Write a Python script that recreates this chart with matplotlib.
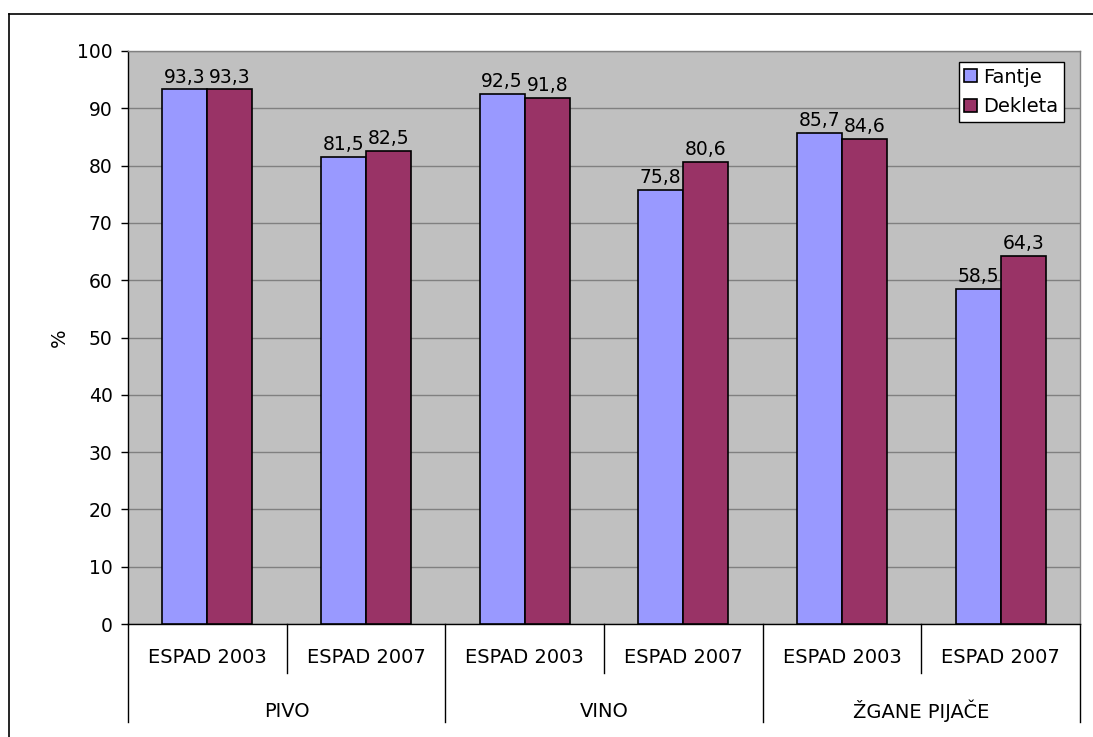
import matplotlib
matplotlib.use("Agg")
import matplotlib.pyplot as plt
from matplotlib.lines import Line2D
import numpy as np

groups = ["PIVO", "VINO", "ŽGANE PIJAČE"]
surveys = ["ESPAD 2003", "ESPAD 2007"]
fantje = [93.3, 81.5, 92.5, 75.8, 85.7, 58.5]
dekleta = [93.3, 82.5, 91.8, 80.6, 84.6, 64.3]
series_names = ["Fantje", "Dekleta"]
yticks = [0, 10, 20, 30, 40, 50, 60, 70, 80, 90, 100]

plt.rcParams['font.family'] = ['DejaVu Sans']
FS = 14
FT = 13.5
FD = 13.5

fig = plt.figure(figsize=(10.93, 7.37), dpi=100)
fig.patch.set_facecolor("white")
W, H = 1093, 737
# outer chart frame
fig.add_artist(Line2D([9 / W, 9 / W], [0, 1 - 14 / H], color="black", lw=1.2))
fig.add_artist(Line2D([9 / W, 1], [1 - 14 / H, 1 - 14 / H], color="black", lw=1.2))

ax = fig.add_axes([128 / W, 1 - 624 / H, (1080 - 128) / W, (624 - 51) / H])
ax.set_facecolor("#C0C0C0")

n = len(fantje)
x = np.arange(n)
w = 0.284
b1 = ax.bar(x - w / 2, fantje, w, color="#9999FF", edgecolor="black", linewidth=1.2, label=series_names[0], zorder=3)
b2 = ax.bar(x + w / 2, dekleta, w, color="#993366", edgecolor="black", linewidth=1.2, label=series_names[1], zorder=3)

def fmt(v):
    return f"{v:.1f}".replace(".", ",")

for bars, vals in ((b1, fantje), (b2, dekleta)):
    for rect, v in zip(bars, vals):
        ax.annotate(fmt(v), (rect.get_x() + rect.get_width() / 2, v),
                    xytext=(0, 2), textcoords="offset points",
                    ha="center", va="bottom", fontsize=FD, zorder=4)

ax.set_xlim(-0.5, n - 0.5)
ax.set_ylim(0, 100)
ax.set_yticks(yticks)
ax.set_yticklabels([str(t) for t in yticks], fontsize=FT)
ax.yaxis.grid(True, color="#808080", linewidth=1, zorder=0)
ax.set_axisbelow(True)
ax.tick_params(axis="y", direction="out", length=5, width=1, color="black", pad=6)
ax.set_xticks([])
ax.set_ylabel("%", fontsize=FS)
ax.yaxis.set_label_coords((69 - 128) / 952, 0.5)

for s in ["top", "right"]:
    ax.spines[s].set_color("#808080")
    ax.spines[s].set_linewidth(1)
for s in ["left", "bottom"]:
    ax.spines[s].set_color("black")
    ax.spines[s].set_linewidth(1)

trans = ax.get_xaxis_transform()
# subcategory labels
for i in range(n):
    ax.text(i, -0.0576, surveys[i % 2], transform=trans, ha="center", va="center", fontsize=FS)
# group labels
for g, name in enumerate(groups):
    ax.text(2 * g + 0.5, -0.152, name, transform=trans, ha="center", va="center", fontsize=FS)
# separators
for k in range(n + 1):
    xp = k - 0.5
    y_end = -0.171 if k % 2 == 0 else -0.0855
    ax.plot([xp, xp], [0, y_end], transform=trans, color="black", lw=1, clip_on=False)

leg = ax.legend(loc="upper right", bbox_to_anchor=(0.983, 0.981), fontsize=FS, frameon=True,
                fancybox=False, edgecolor="black", framealpha=1, handlelength=0.65,
                handleheight=0.65, handletextpad=0.3, borderpad=0.3, labelspacing=0.55,
                borderaxespad=0)
leg.get_frame().set_linewidth(1)

fig.savefig("out.png", dpi=100, facecolor="white")
